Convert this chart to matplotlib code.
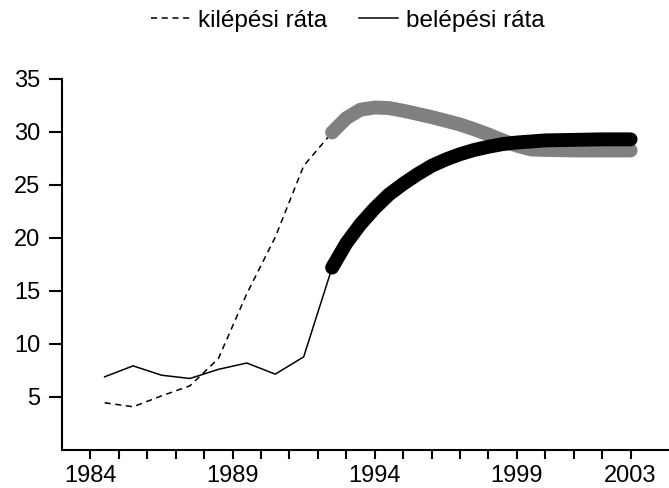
import matplotlib
matplotlib.use('Agg')
import matplotlib.pyplot as plt

plt.rcParams['font.family'] = ['Liberation Sans', 'DejaVu Sans']

# Observed period (annual points, drawn at mid-year)
hist_years = [1984.5, 1985.5, 1986.5, 1987.5, 1988.5, 1989.5, 1990.5, 1991.5, 1992.5]
kilepesi = [4.45, 4.07, 5.1, 6.05, 8.62, 14.74, 20.07, 26.8, 29.95]
belepesi = [6.9, 7.93, 7.05, 6.74, 7.6, 8.2, 7.15, 8.78, 17.2]

# Projection
proj_years = [1992.5, 1993.0, 1993.5, 1994.0, 1994.5, 1995.0, 1995.5, 1996.0, 1996.5,
              1997.0, 1997.5, 1998.0, 1998.5, 1999.0, 1999.5, 2000.0, 2001.0, 2002.0, 2003.0]
kilepesi_proj = [29.95, 31.3, 32.1, 32.3, 32.25, 32.0, 31.7, 31.4, 31.05,
                 30.7, 30.25, 29.75, 29.2, 28.7, 28.35, 28.3, 28.25, 28.25, 28.25]
belepesi_proj = [17.2, 19.5, 21.3, 22.8, 24.1, 25.1, 26.0, 26.8, 27.4,
                 27.9, 28.3, 28.6, 28.85, 29.0, 29.1, 29.2, 29.25, 29.3, 29.3]

tick_years = list(range(1984, 2004))
tick_labels = ['1984', '1989', '1994', '1999', '2003']

fig = plt.figure(figsize=(6.69, 4.88), dpi=100)
ax = fig.add_axes([0.0927, 0.078, 0.9073, 0.7603])

ax.plot(hist_years, kilepesi, color='black', lw=1.1, linestyle=(0, (4, 3)),
        label='kilépési ráta')
ax.plot(hist_years, belepesi, color='black', lw=1.1, label='belépési ráta')
ax.plot(proj_years, kilepesi_proj, color='#808080', lw=10, solid_capstyle='round')
ax.plot(proj_years, belepesi_proj, color='black', lw=10, solid_capstyle='round')

ax.set_xlim(1983.0, 2004.35)
ax.set_ylim(0, 35)
ax.set_yticks([5, 10, 15, 20, 25, 30, 35])
ax.set_xticks(tick_years)
ax.set_xticklabels([str(y) if str(y) in tick_labels else '' for y in tick_years])

for side in ['top', 'right']:
    ax.spines[side].set_visible(False)
for side in ['left', 'bottom']:
    ax.spines[side].set_linewidth(1.5)
ax.tick_params(axis='y', length=9.5, width=1.5, pad=6, labelsize=17)
ax.tick_params(axis='x', length=6.5, width=1.5, pad=4, labelsize=17)

fig.legend(loc='upper center', bbox_to_anchor=(0.52, 1.025), ncol=2, frameon=False,
           fontsize=17.5, handlelength=1.6, handletextpad=0.35, columnspacing=1.3)

fig.savefig('out.png', dpi=100)
